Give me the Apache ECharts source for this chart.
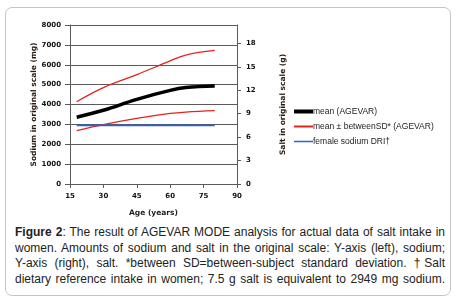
<!DOCTYPE html>
<html>
<head>
<meta charset="utf-8">
<script src="https://cdn.jsdelivr.net/npm/echarts@6/dist/echarts.min.js"></script>
<style>
  body { margin: 0; background: #fff; }
  #frame {
    position: absolute; left: 5px; top: 7px; width: 446px; height: 289px;
    border: 1px solid #c4c4c4; border-radius: 7px; box-sizing: border-box;
  }
  #chart { position: absolute; left: 0; top: 0; width: 458px; height: 222px; }
  #caption {
    position: absolute; left: 15px; top: 225px; width: 430px;
    font-family: "Liberation Sans", Arial, sans-serif; font-size: 12px;
    line-height: 15.6px; color: #222;
  }
  #caption div { text-align: justify; text-align-last: justify; white-space: nowrap; }
</style>
</head>
<body>
<div id="frame"></div>
<div id="chart"></div>
<div id="caption">
  <div><b>Figure 2</b>: The result of AGEVAR MODE analysis for actual data of salt intake in</div>
  <div>women. Amounts of sodium and salt in the original scale: Y-axis (left), sodium;</div>
  <div>Y-axis (right), salt. *between SD=between-subject standard deviation. †Salt</div>
  <div>dietary reference intake in women; 7.5 g salt is equivalent to 2949 mg sodium.</div>
</div>
<script>
var ages = [18, 30, 45, 60, 67, 80];
var meanNa = [3360, 3710, 4260, 4710, 4850, 4930];
var upperNa = [4140, 4850, 5500, 6200, 6490, 6720];
var lowerNa = [2690, 2990, 3300, 3550, 3620, 3690];
var driAges = [18, 80];
var driNa = 2949;
var saltPerMg = 7.5 / 2949;

var names = ['mean (AGEVAR)', 'mean ± betweenSD* (AGEVAR)', 'female sodium DRI†'];

function pairs(xs, ys) {
    return xs.map(function (x, i) { return [x, ys[i]]; });
}

var myChart = echarts.init(document.getElementById('chart'));

var lbl = { fontFamily: 'DejaVu Sans', fontWeight: 'bold', fontSize: 7, color: '#111' };
var axisColor = '#5a5a5a';

function legendOf(name, top, h) {
    return {
        data: [name],
        left: 289,
        top: top,
        icon: 'rect',
        itemWidth: 19,
        itemHeight: h,
        selectedMode: false,
        textStyle: { fontFamily: 'Liberation Sans', fontSize: 8.5, color: '#222', padding: [0, 0, 0, -5] }
    };
}

const option = {
    animation: false,
    grid: { left: 70, top: 25, width: 167, height: 163 },
    legend: [
        legendOf(names[0], 102, 4),
        legendOf(names[1], 117, 2),
        legendOf(names[2], 132, 1.5)
    ],
    xAxis: {
        type: 'value',
        min: 15, max: 90, interval: 15,
        name: 'Age (years)',
        nameLocation: 'middle',
        nameGap: 25,
        nameTextStyle: { fontFamily: 'DejaVu Sans', fontWeight: 'bold', fontSize: 7.5, color: '#222' },
        axisLine: { lineStyle: { color: axisColor, width: 1 } },
        axisTick: { length: 4, lineStyle: { color: axisColor } },
        axisLabel: Object.assign({ margin: 9 }, lbl),
        splitLine: { show: false }
    },
    yAxis: [
        {
            type: 'value',
            min: 0, max: 8000, interval: 1000,
            name: 'Sodium in original scale (mg)',
            nameLocation: 'middle',
            nameGap: 25,
            nameTextStyle: { fontFamily: 'DejaVu Sans', fontWeight: 'bold', fontSize: 7.5, color: '#2a1a10' },
            axisLine: { show: true, lineStyle: { color: axisColor, width: 1 } },
            axisTick: { show: true, length: 5, lineStyle: { color: axisColor } },
            axisLabel: Object.assign({ margin: 9, formatter: function (v) { return String(v); } }, lbl),
            splitLine: { show: true, lineStyle: { color: axisColor, width: 1 } }
        },
        {
            type: 'value',
            position: 'right',
            min: 0, max: 8000 * saltPerMg, interval: 3,
            name: 'Salt in original scale (g)',
            nameLocation: 'middle',
            nameRotate: 90,
            nameGap: 42,
            nameTextStyle: { fontFamily: 'DejaVu Sans', fontWeight: 'bold', fontSize: 7.5, color: '#2a1a10' },
            axisLine: { show: true, lineStyle: { color: axisColor, width: 1 } },
            axisTick: { show: true, length: 4, lineStyle: { color: axisColor } },
            axisLabel: Object.assign({ margin: 9, showMaxLabel: false }, lbl),
            splitLine: { show: false }
        }
    ],
    series: [
        {
            name: names[1], type: 'line', smooth: 0.4, showSymbol: false,
            data: pairs(ages, upperNa),
            itemStyle: { color: '#e3241d' },
            lineStyle: { color: '#e3241d', width: 1.3 }
        },
        {
            name: names[1], type: 'line', smooth: 0.4, showSymbol: false,
            data: pairs(ages, lowerNa),
            itemStyle: { color: '#e3241d' },
            lineStyle: { color: '#e3241d', width: 1.3 }
        },
        {
            name: names[2], type: 'line', showSymbol: false,
            data: pairs(driAges, [driNa, driNa]),
            itemStyle: { color: '#2a62d4' },
            lineStyle: { color: '#2a62d4', width: 1.6 }
        },
        {
            name: names[0], type: 'line', smooth: 0.4, showSymbol: false,
            data: pairs(ages, meanNa),
            itemStyle: { color: '#000' },
            lineStyle: { color: '#000', width: 3.5 }
        }
    ]
};

myChart.setOption(option);
</script>
</body>
</html>
